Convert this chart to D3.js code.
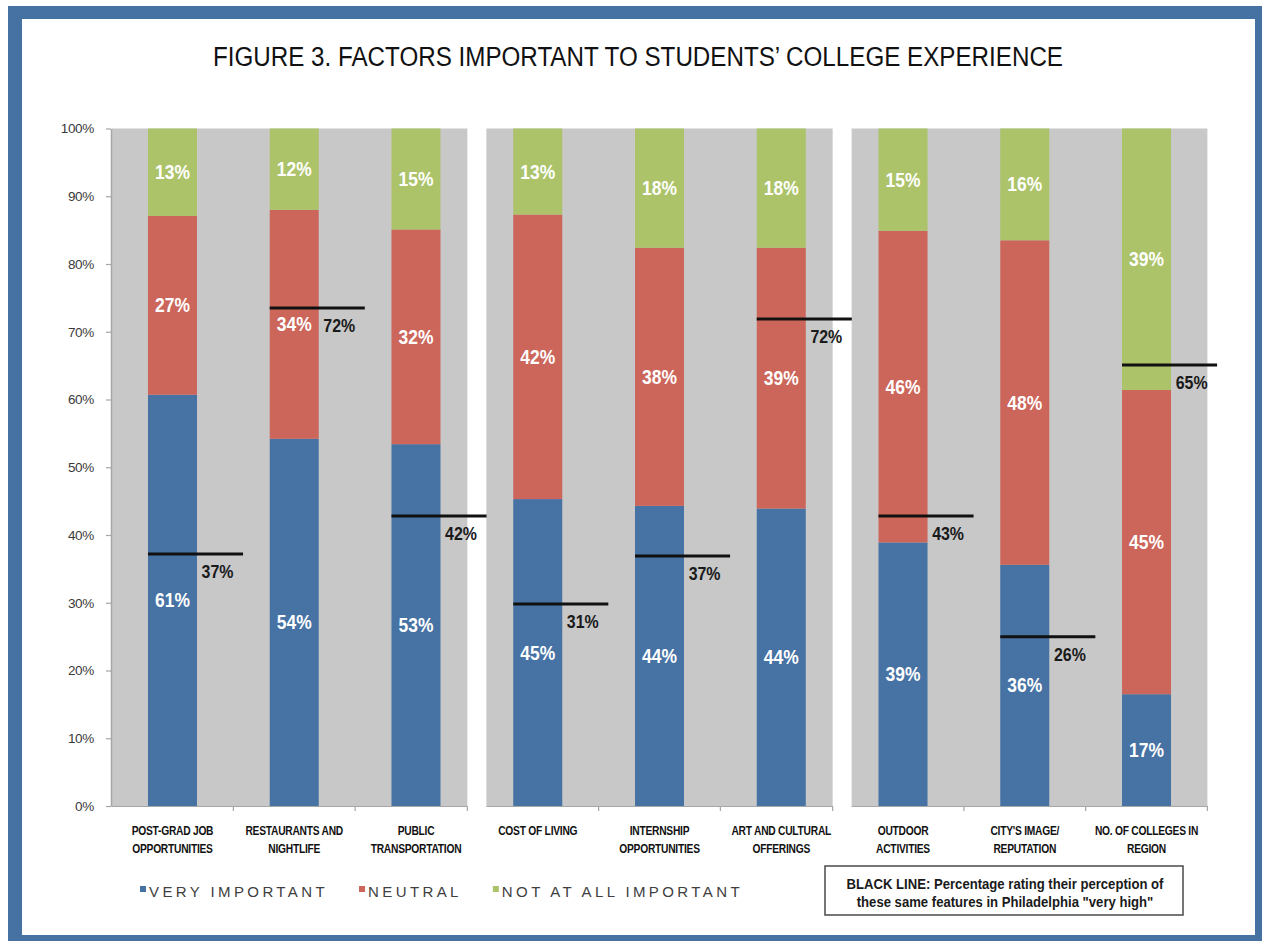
<!DOCTYPE html>
<html><head><meta charset="utf-8">
<script src="https://cdn.jsdelivr.net/npm/d3@7"></script>
<style>
html,body{margin:0;padding:0;background:#fff;}
svg{display:block;}
</style></head>
<body><svg id="chart" width="1262" height="941"></svg>
<script>
// ---- data ----
const categories = ["POST-GRAD JOB|OPPORTUNITIES","RESTAURANTS AND|NIGHTLIFE","PUBLIC|TRANSPORTATION","COST OF LIVING","INTERNSHIP|OPPORTUNITIES","ART AND CULTURAL|OFFERINGS","OUTDOOR|ACTIVITIES","CITY'S IMAGE/|REPUTATION","NO. OF COLLEGES IN|REGION"];
const veryImportant = [60.7,54.2,53.4,45.3,44.3,43.9,38.9,35.6,16.5];
const neutral       = [26.4,33.8,31.7,42.0,38.1,38.5,46.0,47.9,44.9];
const notAtAll      = [12.9,12.0,14.9,12.7,17.6,17.6,15.1,16.5,38.6];
const veryLabels    = [61,54,53,45,44,44,39,36,17];
const neutralLabels = [27,34,32,42,38,39,46,48,45];
const notLabels     = [13,12,15,13,18,18,15,16,39];
const phillyLine    = [37.2,73.5,42.8,29.8,36.9,71.9,42.8,25.0,65.1];
const phillyLabels  = [37,72,42,31,37,72,43,26,65];
const yTicks = [0,10,20,30,40,50,60,70,80,90,100];
const seriesNames = ["VERY IMPORTANT","NEUTRAL","NOT AT ALL IMPORTANT"];
const titleText = "FIGURE 3. FACTORS IMPORTANT TO STUDENTS\u2019 COLLEGE EXPERIENCE";
const noteBold = "BLACK LINE:";
const noteLine1 = " Percentage rating their perception of";
const noteLine2 = "these same features in Philadelphia \"very high\"";
const groupSize = 3;

// ---- styles ----
const SANS = "'Liberation Sans',Arial,sans-serif";
const colors = {"VERY IMPORTANT":"#4672a4","NEUTRAL":"#cc665b","NOT AT ALL IMPORTANT":"#acc36a"};
const frameBlue = "#4571a3";
const panelGray = "#c8c8c8";
const axisGray = "#a6a6a6";

const svg = d3.select("#chart");

// condensed text helper (horizontal squeeze)
function ntext(parent, x, y, str, size, sx, weight, fill, anchor, baseline){
  const g = parent.append("g").attr("transform",`translate(${x},${y}) scale(${sx},1)`);
  const t = g.append("text").attr("x",0).attr("y",0)
    .attr("font-family",SANS).attr("font-size",size).attr("font-weight",weight||"normal")
    .attr("fill",fill||"#111").attr("text-anchor",anchor||"middle");
  if (baseline) t.attr("dominant-baseline",baseline);
  if (str!=null) t.text(str);
  return t;
}

// frame
svg.append("rect").attr("x",8).attr("y",6).attr("width",1300).attr("height",1000).attr("fill",frameBlue);
svg.append("rect").attr("x",22).attr("y",19).attr("width",1233).attr("height",916).attr("fill","#fff");

// title
svg.append("text").attr("x",638).attr("y",66).attr("text-anchor","middle")
  .attr("font-family",SANS).attr("font-size",27).attr("fill","#111")
  .attr("textLength",850).attr("lengthAdjust","spacingAndGlyphs")
  .text(titleText);

// scales
const x = d3.scaleBand().domain(categories).range([111.6,1207.4]).paddingInner(0.5975).paddingOuter(0.29875);
const y = d3.scaleLinear().domain([0,100]).range([806,128.5]);
const bw = x.bandwidth();
const step = x.step();
const gap = 9.5;

// panels
const nGroups = Math.ceil(categories.length/groupSize);
const panels = d3.range(nGroups).map(g=>{
  const a = x.range()[0] + g*groupSize*step;
  const b = a + groupSize*step;
  return {x0: a + (g>0?gap:0), x1: b - (g<nGroups-1?gap:0), a, b, g};
});
svg.append("g").selectAll("rect").data(panels).join("rect")
  .attr("x",d=>d.x0).attr("y",y(100)).attr("width",d=>d.x1-d.x0).attr("height",y(0)-y(100))
  .attr("fill",panelGray);

// x axis lines per panel with boundary ticks
const xa = svg.append("g").attr("stroke",axisGray).attr("stroke-width",1.2);
panels.forEach(p=>{
  xa.append("line").attr("x1",p.x0).attr("x2",p.x1).attr("y1",y(0)+0.5).attr("y2",y(0)+0.5);
  d3.range(1,groupSize+1).forEach(k=>{
    const tx = Math.min(p.a + k*step, p.x1);
    xa.append("line").attr("x1",tx).attr("x2",tx).attr("y1",y(0)).attr("y2",y(0)+5);
  });
});

// y axis
const yAxis = svg.append("g").attr("transform","translate(111,0)")
  .call(d3.axisLeft(y).tickValues(yTicks).tickFormat(d=>d+"%").tickSize(5).tickSizeOuter(0).tickPadding(12));
yAxis.select(".domain").attr("stroke",axisGray).attr("stroke-width",1.5);
yAxis.selectAll(".tick line").attr("stroke",axisGray).attr("stroke-width",1.2);
yAxis.selectAll(".tick text").attr("fill","#3a3a3a").attr("font-family",SANS).attr("font-size",13.5)
  .attr("letter-spacing",-0.3);

// stacked bars
const rows = categories.map((c,i)=>({cat:c, i, "VERY IMPORTANT":veryImportant[i], "NEUTRAL":neutral[i], "NOT AT ALL IMPORTANT":notAtAll[i]}));
const labelsBy = {"VERY IMPORTANT":veryLabels,"NEUTRAL":neutralLabels,"NOT AT ALL IMPORTANT":notLabels};
const stacked = d3.stack().keys(seriesNames)(rows);
const barG = svg.append("g");
stacked.forEach(s=>{
  barG.append("g").attr("fill",colors[s.key]).selectAll("rect").data(s).join("rect")
    .attr("x",d=>x(d.data.cat)).attr("width",bw)
    .attr("y",d=>y(d[1])).attr("height",d=>y(d[0])-y(d[1]));
});
const segLabG = svg.append("g");
stacked.forEach(s=>{
  s.forEach(d=>{
    ntext(segLabG, x(d.data.cat)+bw/2, (y(d[0])+y(d[1]))/2, labelsBy[s.key][d.data.i]+"%",
      21, 0.83, "bold", "#fff", "middle", "central");
  });
});

// Philadelphia lines
const lineG = svg.append("g");
lineG.selectAll("line").data(categories).join("line")
  .attr("x1",c=>x(c)).attr("x2",c=>x(c)+bw*1.94)
  .attr("y1",(c,i)=>y(phillyLine[i])).attr("y2",(c,i)=>y(phillyLine[i]))
  .attr("stroke","#111").attr("stroke-width",3);
categories.forEach((c,i)=>{
  ntext(lineG, x(c)+bw*1.42, y(phillyLine[i])+17.5, phillyLabels[i]+"%", 19, 0.84, "bold", "#1a1a1a", "middle", "central");
});

// category labels
const catG = svg.append("g");
categories.forEach(c=>{
  c.split("|").forEach((ln,k)=>{
    ntext(catG, x(c)+bw/2, 835+k*18, ln, 12.5, 0.82, "bold", "#111", "middle")
      .attr("letter-spacing",-0.3);
  });
});

// legend
const leg = svg.append("g");
let lx = 140;
seriesNames.forEach(n=>{
  leg.append("rect").attr("x",lx).attr("y",886).attr("width",6).attr("height",6).attr("fill",colors[n]);
  const t = leg.append("text").attr("x",lx+9).attr("y",897).attr("font-family",SANS).attr("font-size",15)
    .attr("letter-spacing",3.4).attr("fill","#404040").text(n);
  lx = lx + 9 + t.node().getComputedTextLength() + 31;
});

// note box
const box = svg.append("g");
box.append("rect").attr("x",825).attr("y",866).attr("width",358).attr("height",49)
  .attr("fill","#fff").attr("stroke","#4a4a4a").attr("stroke-width",1.5);
const n1 = ntext(box, 1005, 889, null, 15, 0.875, "bold", "#1a1a1a", "middle");
n1.append("tspan").text(noteBold);
n1.append("tspan").text(noteLine1);
ntext(box, 1005, 907, noteLine2, 15, 0.875, "bold", "#1a1a1a", "middle");
</script>
</body></html>
